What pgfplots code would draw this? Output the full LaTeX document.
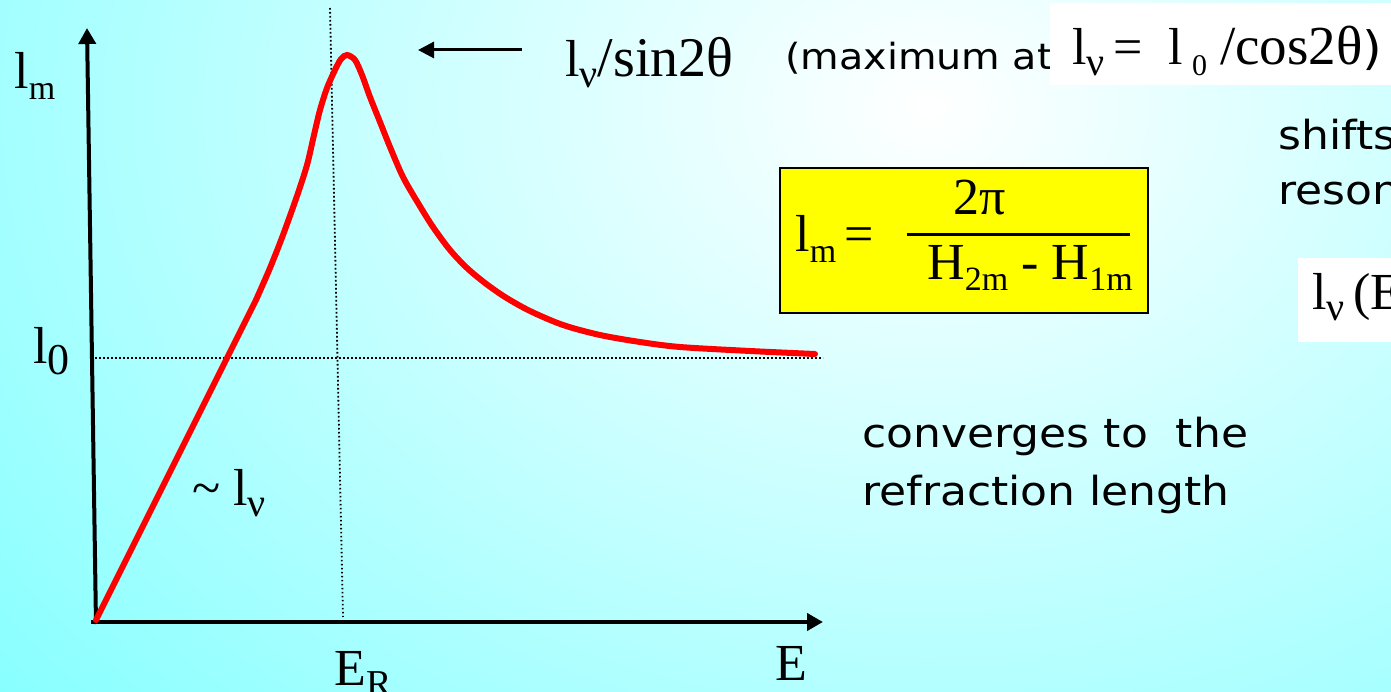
\documentclass[border=0pt]{standalone}
\usepackage{fontspec}
\setmainfont{Liberation Serif}
\newfontfamily\comic[FakeStretch=1.1]{DejaVu Sans}
\usepackage{pgfplots}
\pgfplotsset{compat=1.18}
\usetikzlibrary{arrows.meta}

\definecolor{bgcyan}{RGB}{125,255,255}
\definecolor{curvered}{RGB}{255,0,0}
\definecolor{boxyellow}{RGB}{255,255,0}

% serif label text and lowered subscripts
\newcommand\lbl{\fontsize{26}{30}\selectfont}
\newcommand\sub[2][17]{\raisebox{-5.5pt}{\fontsize{#1}{#1}\selectfont #2}}
\newcommand\cmcA{\comic\fontsize{18}{18}\selectfont}
\newcommand\cmcB{\comic\fontsize{20}{20}\selectfont}
\newcommand\cmcC{\comic\fontsize{23}{23}\selectfont}

\begin{document}
\begin{tikzpicture}
\useasboundingbox (0,0) rectangle (695.5pt,345.5pt);
\clip (0,0) rectangle (695.5pt,345.5pt);
% slide background
\fill[bgcyan] (0,0) rectangle (695.5pt,345.5pt);
\shade[inner color=white, outer color=bgcyan]
  (465pt,292pt) ellipse [x radius=660pt, y radius=500pt];

\begin{axis}[at={(0,0)}, anchor=south west, scale only axis,
  width=695.5pt, height=345.5pt,
  xmin=-95, xmax=1296, ymin=-69, ymax=622,
  hide axis, clip=false]

% reference lines at l_0 and E_R
\draw[line width=0.9pt, dash pattern=on 0.8pt off 1.2pt] (0,264) -- (728,264);
\draw[line width=0.9pt, dash pattern=on 0.8pt off 1.2pt] (235,614) -- (248,5);

% axes
\draw[line width=2pt, -{Triangle[length=8pt,width=8.5pt]}] (1,-2) -- (-8,594);
\draw[line width=2pt, -{Triangle[length=8pt,width=8.5pt]}] (-4,0) -- (728,0);

% mixing length: linear rise, resonance peak, decay to l_0
\addplot[curvered, line width=3pt, line cap=round] coordinates {
  (1,2) (161,322)
};
\addplot[curvered, line width=3pt, line cap=round, smooth, tension=0.5] coordinates {
  (161,322) (175,354) (188,387) (202,426) (212,457) (219,487)
  (225,512) (232,534) (240,552) (246,563) (252,567)
  (260,562) (267,547) (275,525) (285,500) (295,475) (308,445)
  (323,419) (338,395) (355,372) (372,354) (390,339) (410,325)
  (435,311) (468,297) (505,287) (545,280) (585,275) (655,271) (720,268)
};

% arrow pointing to the peak
\draw[line width=1.5pt, -{Triangle[length=8pt,width=8pt]}] (427,572) -- (323,572);

% axis labels
\node[anchor=base west, inner sep=0pt, font=\lbl] at (-81,533) {l\sub{m}};
\node[anchor=base west, inner sep=0pt, font=\lbl] at (-62,259) {l\sub[22]{0}};
\node[anchor=base west, inner sep=0pt, font=\lbl] at (97,117) {\textasciitilde\ l\sub[20]{ν}};
\node[anchor=base west, inner sep=0pt, font=\lbl] at (239,-63) {E\sub[19]{R}};
\node[anchor=base west, inner sep=0pt, font=\lbl] at (680,-58) {E};

% peak annotation
\node[anchor=base west, inner sep=0pt, font=\lbl] at (470,545)
  {l\sub[20]{ν}{\fontsize{28}{30}\selectfont/sin2θ}};
\node[anchor=base west, inner sep=0pt, font=\cmcA] at (690,552) {(maximum at};
\fill[white] (955,619) rectangle (1296,537);
\node[anchor=base west, inner sep=0pt, font=\lbl] at (977,557)
  {l\sub[20]{ν}\,= \ l\,\sub[15]{0} {\fontsize{27.5}{30}\selectfont/cos2θ}{\cmcC)}};

% mixing length formula
\draw[line width=1pt, fill=boxyellow] (685,454) rectangle (1053,309);
\node[anchor=base west, inner sep=0pt, font=\lbl] at (700,370) {l\sub{m}\,=};
\draw[line width=1.5pt] (812,387) -- (1035,387);
\node[anchor=base, inner sep=0pt, font=\lbl] at (885,407) {2π};
\node[anchor=base west, inner sep=0pt, font=\lbl] at (832,342) {H\sub{2m} - H\sub{1m}};

% right-hand notes
\node[anchor=base west, inner sep=0pt, font=\cmcB] at (1183,472) {shifts the};
\node[anchor=base west, inner sep=0pt, font=\cmcB] at (1183,417) {resonance};
\fill[white] (1203,364) rectangle (1296,280);
\node[anchor=base west, inner sep=0pt, font=\lbl] at (1217,312) {l\sub[20]{ν}\,(E};

\node[anchor=base west, inner sep=0pt, font=\cmcB] at (767,175) {converges to \ the};
\node[anchor=base west, inner sep=0pt, font=\cmcB] at (767,117) {refraction length};
\end{axis}
\end{tikzpicture}
\end{document}
